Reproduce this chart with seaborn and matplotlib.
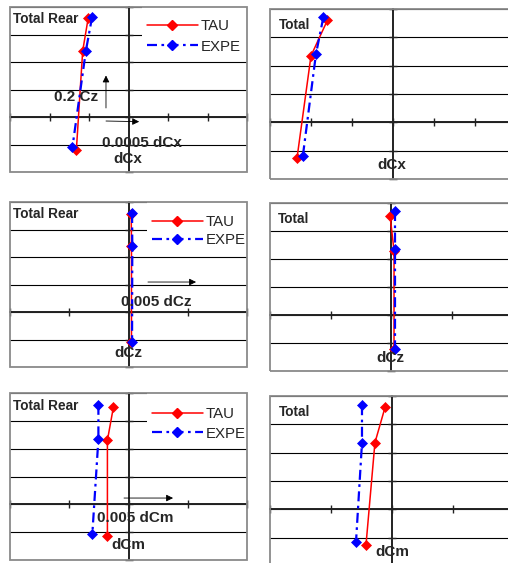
import matplotlib
matplotlib.use("Agg")
import matplotlib.pyplot as plt
from matplotlib.lines import Line2D
from matplotlib.patches import Rectangle
import numpy as np
import pandas as pd
import seaborn as sns

sns.set_style("white")
plt.rcParams['font.family'] = ['Liberation Sans', 'DejaVu Sans']

# ---------------- data ----------------
series_names = ["TAU", "EXPE"]

# dCx, Total Rear
rear_cx_tau_x = [-0.00051, -0.00058, -0.00066]
rear_cx_tau_cz = [0.72, 0.48, -0.24]
rear_cx_expe_x = [-0.00046, -0.00054, -0.00071]
rear_cx_expe_cz = [0.73, 0.48, -0.22]
# dCx, Total
total_cx_tau_x = [-0.00080, -0.00100, -0.00117]
total_cx_tau_cz = [0.72, 0.47, -0.25]
total_cx_expe_x = [-0.00085, -0.00094, -0.00110]
total_cx_expe_cz = [0.74, 0.48, -0.24]
# dCz, Total Rear
rear_cz_tau_x = [0.00023, 0.00025, 0.00025]
rear_cz_tau_cz = [0.71, 0.48, -0.22]
rear_cz_expe_x = [0.00030, 0.00032, 0.00030]
rear_cz_expe_cz = [0.72, 0.48, -0.22]
# dCz, Total
total_cz_tau_x = [-0.00008, 0.00025, 0.00025]
total_cz_tau_cz = [0.71, 0.46, -0.24]
total_cz_expe_x = [0.00033, 0.00033, 0.00033]
total_cz_expe_cz = [0.74, 0.47, -0.24]
# dCm, Total Rear
rear_cm_tau_x = [-0.00127, -0.00178, -0.00178]
rear_cm_tau_cz = [0.70, 0.46, -0.23]
rear_cm_expe_x = [-0.00254, -0.00254, -0.00305]
rear_cm_expe_cz = [0.715, 0.47, -0.21]
# dCm, Total
total_cm_tau_x = [-0.00057, -0.00140, -0.00213]
total_cm_tau_cz = [0.72, 0.47, -0.25]
total_cm_expe_x = [-0.00246, -0.00246, -0.00295]
total_cm_expe_cz = [0.735, 0.47, -0.23]

cx_ticks = [-0.0015, -0.001, -0.0005, 0.0, 0.0005, 0.001, 0.0015]
cz_ticks = [-0.01, -0.005, 0.0, 0.005, 0.01]
cm_ticks = [-0.01, -0.005, 0.0, 0.005, 0.01]
y_ticks = [-0.4, -0.2, 0.0, 0.2, 0.4, 0.6, 0.8]

# ---------------- figure ----------------
W, H = 508, 563
fig = plt.figure(figsize=(W / 100, H / 100), dpi=100)
fig.patch.set_facecolor("white")

RED = "#FF0000"
BLUE = "#0000FF"
styles = {
    "TAU": dict(color=RED, linestyle="-", lw=1.1),
    "EXPE": dict(color=BLUE, linestyle=(0, (4.5, 2, 1.2, 2)), lw=1.6),
}
MS = 4.6


def make_ax(box):
    l, t, r, b = box
    return fig.add_axes([l / W, 1 - b / H, (r - l) / W, (b - t) / H])


def setup(ax, xticks):
    ax.set_xlim(xticks[0], xticks[-1])
    ax.set_ylim(y_ticks[0], y_ticks[-1])
    ax.set_xticks(xticks)
    ax.set_yticks(y_ticks)
    ax.set_xticklabels([])
    ax.set_yticklabels([])
    ax.set_xlabel("")
    ax.set_ylabel("")
    ax.set_axisbelow(True)
    ax.grid(axis="y", color="black", lw=0.8)
    ax.grid(axis="x", visible=False)
    ax.spines["top"].set_visible(False)
    ax.spines["right"].set_visible(False)
    ax.spines["left"].set_position(("data", 0))
    ax.spines["bottom"].set_position(("data", 0))
    for s in ("left", "bottom"):
        ax.spines[s].set_color("#222222")
        ax.spines[s].set_linewidth(1.4)
        ax.spines[s].set_zorder(1.8)
    ax.tick_params(axis="both", direction="inout", length=5.5, width=1.0,
                   color="#222222", left=True, bottom=True)
    ax.add_patch(Rectangle((0, 0), 1, 1, transform=ax.transAxes, fill=False,
                           edgecolor="#8a8a8a", lw=1.3, clip_on=False, zorder=5))


def draw_series(ax, xs, ys, name):
    df = pd.DataFrame({"dC": xs, "Cz": ys})
    st = styles[name]
    sns.lineplot(data=df, x="dC", y="Cz", ax=ax, sort=False, estimator=None,
                 color=st["color"], linestyle=st["linestyle"], lw=st["lw"],
                 marker="D", markersize=MS, markeredgecolor=st["color"],
                 markeredgewidth=0.5, legend=False, zorder=3)


def add_legend(ax, anchor, spacing):
    handles = [Line2D([], [], marker="D", markersize=MS,
                      markeredgecolor=styles[n]["color"], **styles[n])
               for n in series_names]
    ax.add_patch(Rectangle((anchor[0] - 0.02, anchor[2]), 1.02 - anchor[0], 1 - anchor[2],
                           transform=ax.transAxes, facecolor="white",
                           edgecolor="none", zorder=1.5))
    ax.legend(handles, series_names, loc="upper left",
              bbox_to_anchor=(anchor[0], anchor[1]), frameon=False,
              borderpad=0, borderaxespad=0, handlelength=3.4,
              handletextpad=0.2, labelspacing=spacing, fontsize=10.8)


def label(ax, x, y, s, size=11.0, ha="center"):
    ax.text(x, y, s, transform=ax.transAxes, ha=ha, va="center",
            fontsize=size, fontweight="bold", zorder=6)


def arrow(ax, start, end):
    ax.annotate("", xy=end, xytext=start, xycoords="axes fraction",
                textcoords="axes fraction",
                arrowprops=dict(arrowstyle="-|>", color="black", lw=0.6,
                                mutation_scale=10, shrinkA=0, shrinkB=0),
                zorder=6)


TITLE_SIZE = 9.8

# panel 1: dCx Total Rear
ax1 = make_ax((10, 7, 247, 172))
draw_series(ax1, rear_cx_tau_x, rear_cx_tau_cz, "TAU")
draw_series(ax1, rear_cx_expe_x, rear_cx_expe_cz, "EXPE")
setup(ax1, cx_ticks)
add_legend(ax1, (0.578, 0.925, 0.68), 0.42)
label(ax1, 0.013, 0.927, "Total Rear", size=TITLE_SIZE, ha="left")
label(ax1, 0.278, 0.455, "0.2 Cz")
label(ax1, 0.557, 0.178, "0.0005 dCx")
label(ax1, 0.498, 0.08, "dCx")
arrow(ax1, (0.405, 0.388), (0.405, 0.585))
arrow(ax1, (0.405, 0.309), (0.545, 0.305))

# panel 2: dCx Total
ax2 = make_ax((270, 9, 516, 179))
draw_series(ax2, total_cx_tau_x, total_cx_tau_cz, "TAU")
draw_series(ax2, total_cx_expe_x, total_cx_expe_cz, "EXPE")
setup(ax2, cx_ticks)
label(ax2, 0.037, 0.906, "Total", size=TITLE_SIZE, ha="left")
label(ax2, 0.496, 0.082, "dCx")

# panel 3: dCz Total Rear
ax3 = make_ax((10, 202, 247, 367))
draw_series(ax3, rear_cz_tau_x, rear_cz_tau_cz, "TAU")
draw_series(ax3, rear_cz_expe_x, rear_cz_expe_cz, "EXPE")
setup(ax3, cz_ticks)
add_legend(ax3, (0.598, 0.922, 0.70), 0.3)
label(ax3, 0.013, 0.927, "Total Rear", size=TITLE_SIZE, ha="left")
label(ax3, 0.616, 0.394, "0.005 dCz")
label(ax3, 0.498, 0.085, "dCz")
arrow(ax3, (0.582, 0.515), (0.785, 0.515))

# panel 4: dCz Total
ax4 = make_ax((270, 203, 512, 371))
draw_series(ax4, total_cz_tau_x, total_cz_tau_cz, "TAU")
draw_series(ax4, total_cz_expe_x, total_cz_expe_cz, "EXPE")
setup(ax4, cz_ticks)
label(ax4, 0.033, 0.905, "Total", size=TITLE_SIZE, ha="left")
label(ax4, 0.496, 0.077, "dCz")

# panel 5: dCm Total Rear
ax5 = make_ax((10, 393, 247, 560))
draw_series(ax5, rear_cm_tau_x, rear_cm_tau_cz, "TAU")
draw_series(ax5, rear_cm_expe_x, rear_cm_expe_cz, "EXPE")
setup(ax5, cm_ticks)
add_legend(ax5, (0.598, 0.917, 0.68), 0.38)
label(ax5, 0.013, 0.922, "Total Rear", size=TITLE_SIZE, ha="left")
label(ax5, 0.527, 0.251, "0.005 dCm")
label(ax5, 0.498, 0.09, "dCm")
arrow(ax5, (0.481, 0.371), (0.688, 0.371))

# panel 6: dCm Total
ax6 = make_ax((270, 396, 514, 566))
draw_series(ax6, total_cm_tau_x, total_cm_tau_cz, "TAU")
draw_series(ax6, total_cm_expe_x, total_cm_expe_cz, "EXPE")
setup(ax6, cm_ticks)
label(ax6, 0.037, 0.906, "Total", size=TITLE_SIZE, ha="left")
label(ax6, 0.5, 0.082, "dCm")

fig.savefig("out.png", dpi=100, facecolor="white")
